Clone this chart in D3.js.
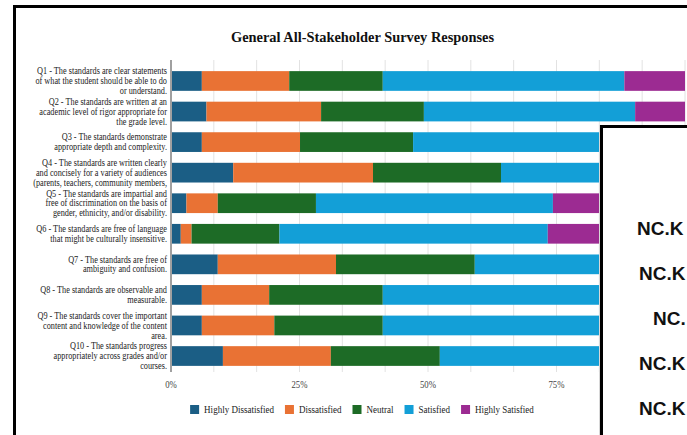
<!DOCTYPE html>
<html>
<head>
<meta charset="utf-8">
<script src="https://cdn.jsdelivr.net/npm/d3@7"></script>
<style>
  body { margin: 0; background: #fff; }
  svg { display: block; }
</style>
</head>
<body>
<div id="chartArea"></div>
<script>
var width = 687,
    height = 435;

var title = "General All-Stakeholder Survey Responses";

// questions, already wrapped the way the original wraps them
var questions = ["Q1", "Q2", "Q3", "Q4", "Q5", "Q6", "Q7", "Q8", "Q9", "Q10"];
var labelLines = [
  ["Q1 - The standards are clear statements", "of what the student should be able to do", "or understand."],
  ["Q2 - The standards are written at an", "academic level of rigor appropriate for", "the grade level."],
  ["Q3 - The standards demonstrate", "appropriate depth and complexity."],
  ["Q4 - The standards are written clearly", "and concisely for a variety of audiences", "(parents, teachers, community members,"],
  ["Q5 - The standards are impartial and", "free of discrimination on the basis of", "gender, ethnicity, and/or disability."],
  ["Q6 - The standards are free of language", "that might be culturally insensitive."],
  ["Q7 - The standards are free of", "ambiguity and confusion."],
  ["Q8 - The standards are observable and", "measurable."],
  ["Q9 - The standards cover the important", "content and knowledge of the content", "area."],
  ["Q10 - The standards progress", "appropriately across grades and/or", "courses."]
];

var seriesNames = ["Highly Dissatisfied", "Dissatisfied", "Neutral", "Satisfied", "Highly Satisfied"];
var seriesColors = ["#1b5e85", "#e97234", "#1d6b26", "#139fd7", "#9c2b92"];

// percent of responses per question
var highlyDissatisfied = [6.0, 6.9, 6.0, 12.1, 3.0, 1.9, 9.1, 6.0, 6.0, 10.1];
var dissatisfied       = [17.0, 22.3, 19.1, 27.2, 6.1, 2.1, 23.0, 13.1, 14.1, 21.0];
var neutral            = [18.2, 20.0, 22.0, 24.9, 19.1, 17.1, 27.0, 22.1, 21.1, 21.2];
var satisfied          = [47.0, 41.1, 42.9, 29.8, 46.1, 52.2, 33.0, 49.0, 48.8, 37.7];
var highlySatisfied    = [11.8, 9.7, 10.0, 6.0, 25.7, 26.7, 7.9, 9.8, 10.0, 10.0];

// 100% sits under the panel, so it is not shown
var tickValues = [0, 0.25, 0.5, 0.75];

// what shows of the codes on the panel laid over the chart
var panelCodes = ["NC.K", "NC.K", "NC.", "NC.K", "NC.K"];

var sx = 0.87; // text in the original is a bit narrow

var svg = d3.select("#chartArea").append("svg")
    .attr("width", width)
    .attr("height", height);

svg.append("rect")
    .attr("width", width)
    .attr("height", height)
    .style("fill", "#ffffff");

// outer frame
svg.append("rect")
    .attr("x", 14.5)
    .attr("y", 6.5)
    .attr("width", 720)
    .attr("height", 480)
    .style("fill", "none")
    .style("stroke", "#000")
    .style("stroke-width", 3);

function squeezed(sel, x, y, k) {
  return sel.attr("transform", "translate(" + x + "," + y + ") scale(" + (k || sx) + ",1)");
}

squeezed(svg.append("text"), 362.5, 42, 0.96)
    .attr("text-anchor", "middle")
    .style("font-family", "'Liberation Serif', serif")
    .style("font-weight", "bold")
    .style("font-size", "15px")
    .style("fill", "#111")
    .text(title);

var x = d3.scaleLinear().domain([0, 1]).range([171, 685]);
var y = d3.scaleBand().domain(questions)
    .range([65.7, 371.3])
    .paddingInner(0.355)
    .paddingOuter(0.1775);

var plotTop = 60,
    plotBottom = 372;

// gridlines, 3 per 25%
var grid = d3.range(1, 13).map(function(i) { return i / 12; });
svg.append("g").selectAll("line")
    .data(grid)
    .enter().append("line")
    .attr("x1", function(d) { return x(d); })
    .attr("x2", function(d) { return x(d); })
    .attr("y1", plotTop)
    .attr("y2", plotBottom)
    .style("stroke", "#e2e2e2")
    .style("stroke-width", 1);

var rows = questions.map(function(q, i) {
  var vals = [highlyDissatisfied[i], dissatisfied[i], neutral[i], satisfied[i], highlySatisfied[i]];
  var total = d3.sum(vals), acc = 0;
  return vals.map(function(v, k) {
    var seg = {q: q, k: k, x0: acc / total, x1: (acc + v) / total};
    acc += v;
    return seg;
  });
});

svg.append("g").selectAll("g")
    .data(rows)
    .enter().append("g")
    .selectAll("rect")
    .data(function(d) { return d; })
    .enter().append("rect")
    .attr("x", function(d) { return x(d.x0); })
    .attr("width", function(d) { return x(d.x1) - x(d.x0); })
    .attr("y", function(d) { return y(d.q); })
    .attr("height", y.bandwidth())
    .style("fill", function(d) { return seriesColors[d.k]; });

// baseline
svg.append("line")
    .attr("x1", x(0))
    .attr("x2", x(0))
    .attr("y1", plotTop)
    .attr("y2", plotBottom)
    .style("stroke", "#a0a0a0")
    .style("stroke-width", 2);

// category labels
var lab = svg.append("g").selectAll("g")
    .data(questions)
    .enter().append("g");
lab.each(function(q, i) {
  var lines = labelLines[i],
      cy = y(q) + y.bandwidth() / 2,
      lh = 9.9;
  var g = d3.select(this);
  lines.forEach(function(t, j) {
    squeezed(g.append("text"), 167, cy + (j - (lines.length - 1) / 2) * lh + 3.2)
        .attr("text-anchor", "end")
        .style("font-family", "'Liberation Serif', serif")
        .style("font-size", "9.5px")
        .style("fill", "#222")
        .text(t);
  });
});

// x tick labels
var fmt = d3.format(".0%");
svg.append("g").selectAll("text")
    .data(tickValues)
    .enter().append("text")
    .each(function(d) { squeezed(d3.select(this), x(d), 388, 0.92); })
    .attr("text-anchor", "middle")
    .style("font-family", "'Liberation Serif', serif")
    .style("font-size", "9.5px")
    .style("fill", "#444")
    .text(function(d) { return fmt(d); });

// legend
var legend = svg.append("g");
var items = legend.selectAll("g")
    .data(seriesNames)
    .enter().append("g");
items.append("rect")
    .attr("y", 405)
    .attr("width", 9)
    .attr("height", 9)
    .style("fill", function(d, i) { return seriesColors[i]; });
items.append("text")
    .each(function() { squeezed(d3.select(this), 14, 413, 0.95); })
    .style("font-family", "'Liberation Serif', serif")
    .style("font-size", "9.5px")
    .style("fill", "#222")
    .text(function(d) { return d; });
var cursor = 0;
items.each(function() {
  var w = d3.select(this).select("text").node().getComputedTextLength() * 0.95;
  d3.select(this).attr("transform", "translate(" + cursor + ",0)");
  cursor += 14 + w + 11;
});
var legendW = cursor - 11;
legend.attr("transform", "translate(" + (362 - legendW / 2) + ",0)");

// panel laid over the right side
svg.append("line")
    .attr("x1", 599.5).attr("x2", 599.5)
    .attr("y1", 125).attr("y2", height)
    .style("stroke", "#d8d8d8");
svg.append("rect")
    .attr("x", 601.5)
    .attr("y", 126.5)
    .attr("width", 200)
    .attr("height", 400)
    .style("fill", "#ffffff")
    .style("stroke", "#000")
    .style("stroke-width", 3);

var codeX = [637, 639, 653, 639, 639];
svg.append("g").selectAll("text")
    .data(panelCodes)
    .enter().append("text")
    .attr("x", function(d, i) { return codeX[i]; })
    .attr("y", function(d, i) { return 235 + i * 45; })
    .style("font-family", "'Liberation Sans', Arial, sans-serif")
    .style("font-weight", "bold")
    .style("font-size", "19px")
    .style("fill", "#111")
    .text(function(d) { return d; });
</script>
</body>
</html>
